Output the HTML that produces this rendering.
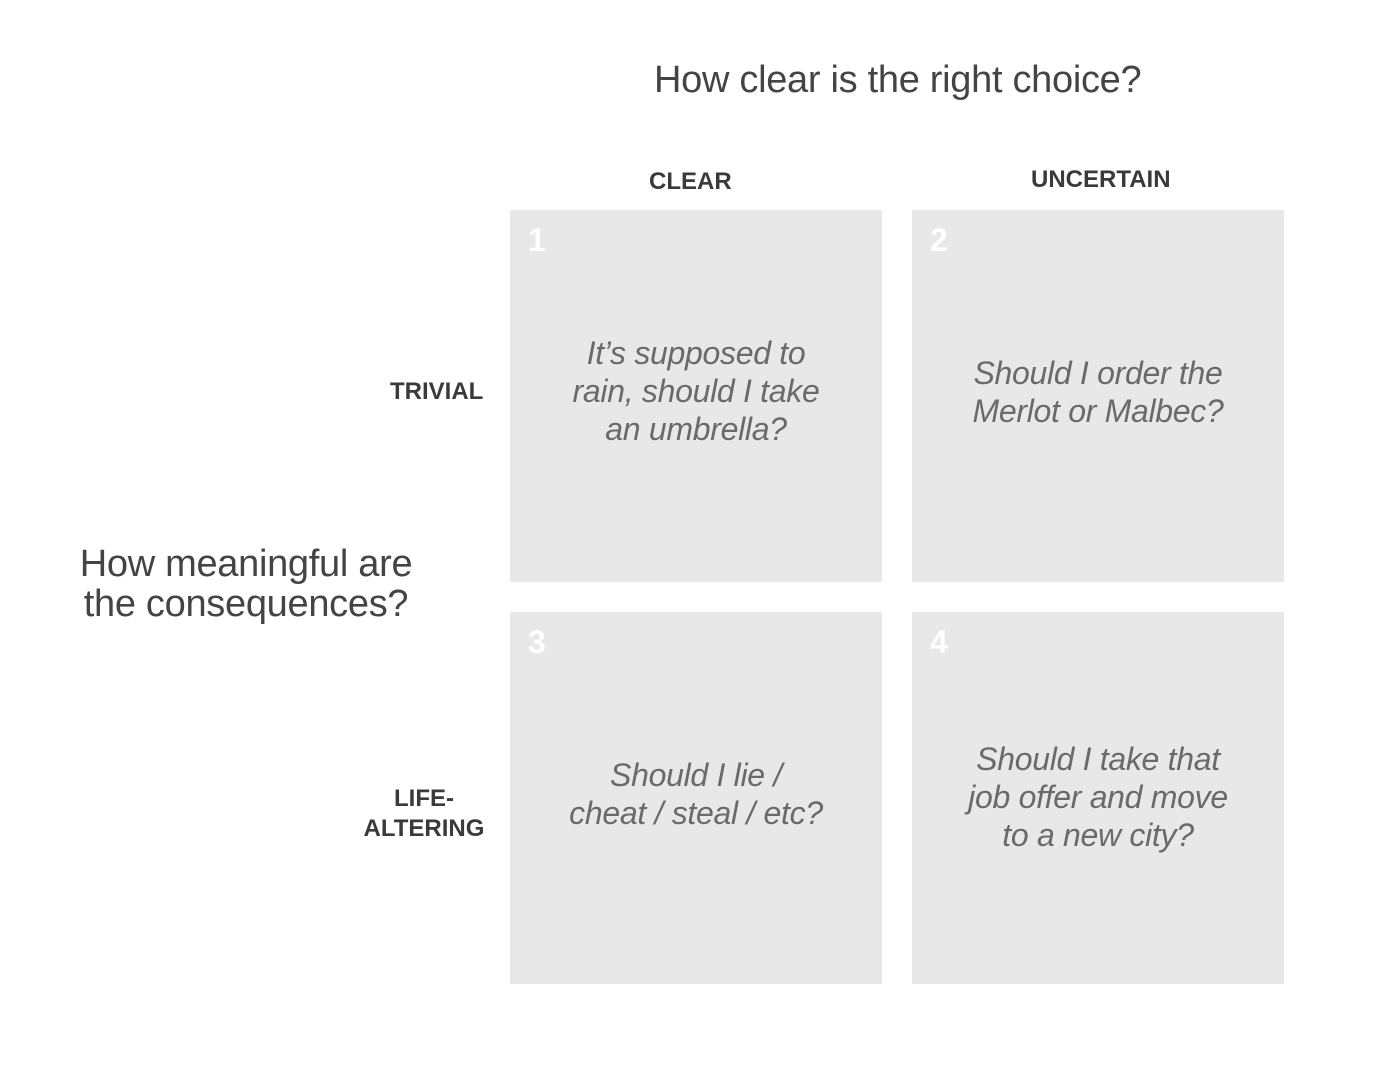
<!DOCTYPE html>
<html><head><style>
body{margin:0;width:1388px;height:1090px;background:#fff;position:relative;font-family:"Liberation Sans",sans-serif;overflow:hidden}
.b{position:absolute;width:372px;height:372px;background:#e8e8e8}
.n{position:absolute;left:18px;top:12px;color:#fff;font-weight:bold;font-size:32px}
.t{position:absolute;left:0;width:372px;text-align:center;font-style:italic;color:#6a6a6a;font-size:32px;line-height:38px;letter-spacing:-0.3px}
.h{position:absolute;font-weight:bold;color:#3a3a3a;font-size:24px}
.q{position:absolute;color:#444;font-size:38px;line-height:40px;letter-spacing:-0.3px}
</style></head><body>
<div class="q" style="left:654px;top:60px">How clear is the right choice?</div>
<div class="q" style="left:46px;top:544px;width:400px;text-align:center">How meaningful are<br>the consequences?</div>
<div class="h" style="left:649px;top:168px">CLEAR</div>
<div class="h" style="left:1031px;top:166px">UNCERTAIN</div>
<div class="h" style="left:390px;top:378px">TRIVIAL</div>
<div class="h" style="left:362px;top:784px;width:124px;text-align:center;line-height:30px">LIFE-<br>ALTERING</div>
<div class="b" style="left:510px;top:210px"><div class="n">1</div><div class="t" style="top:124px">It’s supposed to<br>rain, should I take<br>an umbrella?</div></div>
<div class="b" style="left:912px;top:210px"><div class="n">2</div><div class="t" style="top:144px">Should I order the<br>Merlot or Malbec?</div></div>
<div class="b" style="left:510px;top:612px"><div class="n">3</div><div class="t" style="top:144px">Should I lie /<br>cheat / steal / etc?</div></div>
<div class="b" style="left:912px;top:612px"><div class="n">4</div><div class="t" style="top:128px">Should I take that<br>job offer and move<br>to a new city?</div></div>
</body></html>
